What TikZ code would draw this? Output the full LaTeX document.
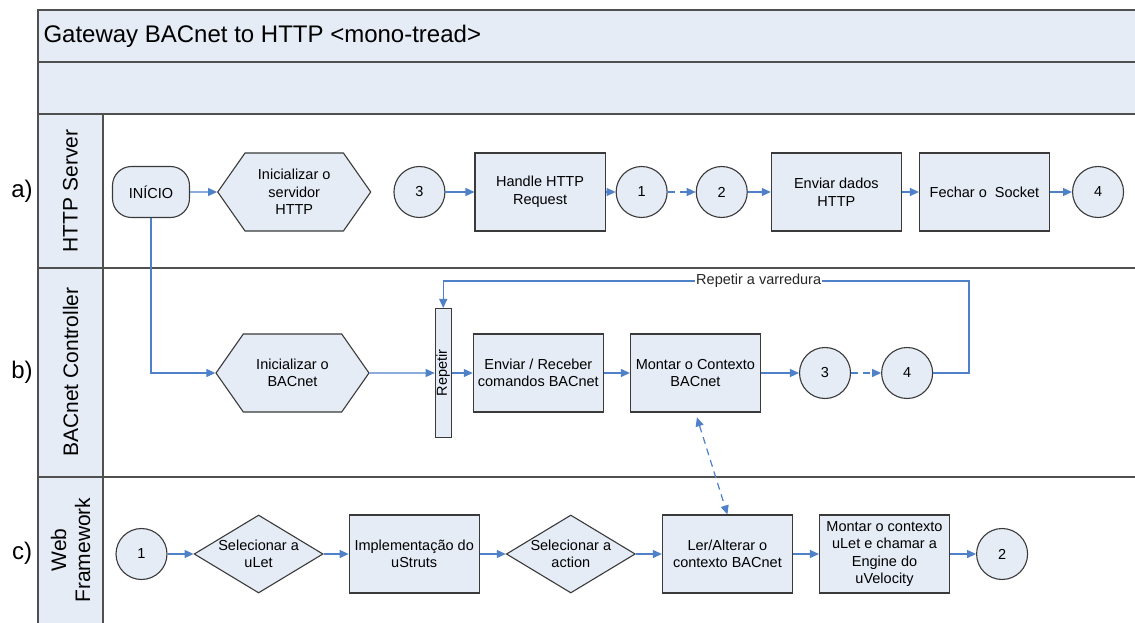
\documentclass[tikz,border=0pt]{standalone}
\usepackage{fontspec}
\setmainfont{Liberation Sans}
\usetikzlibrary{
  arrows.meta,
  positioning,
  shapes.geometric,
  shapes.symbols
}
\definecolor{lanefill}{RGB}{229,236,246}
\definecolor{flowblue}{RGB}{79,129,201}
\definecolor{edgegray}{RGB}{58,58,58}
\definecolor{framegray}{RGB}{80,80,80}
\tikzset{
  nodetext/.style={align=center, font=\fontsize{14.5}{17.5}\selectfont},
  procbox/.style={nodetext, draw=edgegray, fill=lanefill, line width=1.1pt,
    minimum width=130pt, minimum height=78pt, inner sep=2pt},
  prepbox/.style={nodetext, shape=signal, signal to=west and east,
    signal pointer angle=110, draw=edgegray, fill=lanefill, line width=1.1pt,
    minimum width=153pt, minimum height=78pt, inner sep=2pt},
  decbox/.style={nodetext, diamond, draw=edgegray, fill=lanefill, line width=1.1pt,
    minimum width=129pt, minimum height=78pt, inner xsep=-14pt, inner ysep=-5pt},
  linkcirc/.style={nodetext, circle, draw=edgegray, fill=lanefill, line width=1.1pt,
    minimum size=51pt, inner sep=0pt},
  termbox/.style={nodetext, draw=edgegray, fill=lanefill, line width=1.1pt,
    rounded corners=19pt, minimum width=77pt, minimum height=51pt},
  repbar/.style={nodetext, draw=edgegray, fill=lanefill, line width=1.1pt,
    minimum width=16pt, minimum height=129pt, inner sep=0pt},
  lanetitle/.style={rotate=90, align=center, font=\fontsize{21}{24}\selectfont},
  lanetag/.style={font=\fontsize{24}{28}\selectfont},
  flow/.style={-{Triangle[length=9pt,width=8pt]}, flowblue, line width=1.2pt},
  dflow/.style={flow, dash pattern=on 7pt off 5pt},
}

\begin{document}
\begin{tikzpicture}[x=1pt, y=-1pt]
  \useasboundingbox (0,0) rectangle (1135,623);

  % Pool frame and lanes
  \fill[lanefill] (38,10) rectangle (1140,114);
  \fill[lanefill] (38,114) rectangle (103,630);
  \draw[framegray, line width=1.3pt]
    (1140,10) -- (38,10) -- (38,630)
    (38,62) -- (1140,62)
    (38,114) -- (1140,114)
    (38,268) -- (1140,268)
    (38,477) -- (1140,477)
    (103,114) -- (103,630);

  \node[anchor=west, font=\fontsize{24}{28}\selectfont] (title) at (40,36)
    {Gateway BACnet to HTTP <mono-tread>};

  \node[lanetitle] (lanea) at (70.5,191) {HTTP Server};
  \node[lanetitle] (laneb) at (70.5,372) {BACnet Controller};
  \node[lanetitle] (lanec) at (70.5,550) {Web\\Framework};
  \node[lanetag] (taga) at (22,191) {a)};
  \node[lanetag] (tagb) at (22,372) {b)};
  \node[lanetag] (tagc) at (22,553) {c)};

  % a) HTTP Server
  \node[termbox] (inicio) at (151,192) {INÍCIO};
  \node[prepbox, right=27pt of inicio] (srvinit) {Inicializar o\\servidor\\HTTP};
  \node[linkcirc, right=22pt of srvinit] (a3) {3};
  \node[procbox, right=29pt of a3] (handle) {Handle HTTP\\Request};
  \node[linkcirc, right=10pt of handle] (a1) {1};
  \node[linkcirc, right=28pt of a1] (a2) {2};
  \node[procbox, right=23pt of a2] (senddata) {Enviar dados\\HTTP};
  \node[procbox, right=17pt of senddata] (closesock) {Fechar o\ \ Socket};
  \node[linkcirc, right=22pt of closesock] (a4) {4};

  % b) BACnet Controller
  \node[prepbox] (bacinit) at (292.5,373) {Inicializar o\\BACnet};
  \node[repbar, right=65pt of bacinit] (rep) {\rotatebox{90}{Repetir}};
  \node[procbox, right=21pt of rep] (sendrecv) {Enviar / Receber\\comandos BACnet};
  \node[procbox, right=26pt of sendrecv] (ctxbuild) {Montar o Contexto\\BACnet};
  \node[linkcirc, right=38pt of ctxbuild] (b3) {3};
  \node[linkcirc, right=30pt of b3] (b4) {4};
  \coordinate (loopturn) at (969,281);

  % c) Web Framework
  \node[linkcirc] (c1) at (141.5,554) {1};
  \node[decbox, right=26pt of c1] (selulet) {Selecionar a\\uLet};
  \node[procbox, right=25pt of selulet] (ustruts) {Implementação do\\uStruts};
  \node[decbox, right=26pt of ustruts] (selaction) {Selecionar a\\action};
  \node[procbox, right=26pt of selaction] (ctxedit) {Ler/Alterar o\\contexto BACnet};
  \node[procbox, right=26pt of ctxedit] (velocity)
    {Montar o contexto\\uLet e chamar a\\Engine do\\uVelocity};
  \node[linkcirc, right=26pt of velocity] (c2) {2};

  % Connectors
  \draw[flow] (inicio) -- (srvinit);
  \draw[flow] (a3) -- (handle);
  \draw[flow] (handle) -- (a1);
  \draw[dflow] (a1) -- (a2);
  \draw[flow] (a2) -- (senddata);
  \draw[flow] (senddata) -- (closesock);
  \draw[flow] (closesock) -- (a4);

  \draw[flow] (inicio.south) |- (bacinit.west);
  \draw[flow] (bacinit) -- (rep);
  \draw[flow] (rep) -- (sendrecv);
  \draw[flow] (sendrecv) -- (ctxbuild);
  \draw[flow] (ctxbuild) -- (b3);
  \draw[dflow] (b3) -- (b4);
  \draw[flow] (b4.east) -| (loopturn)
    -| node[pos=0.2, fill=white, inner sep=1pt, text=black!85,
      font=\fontsize{14.5}{17.5}\selectfont] {Repetir a varredura} (rep.north);

  \draw[flow] (c1) -- (selulet);
  \draw[flow] (selulet) -- (ustruts);
  \draw[flow] (ustruts) -- (selaction);
  \draw[flow] (selaction) -- (ctxedit);
  \draw[flow] (ctxedit) -- (velocity);
  \draw[flow] (velocity) -- (c2);

  \draw[dflow, {Triangle[length=9pt,width=8pt]}-{Triangle[length=9pt,width=8pt]},
    shorten <=5pt] (ctxbuild.south) -- (ctxedit.north);
\end{tikzpicture}
\end{document}
